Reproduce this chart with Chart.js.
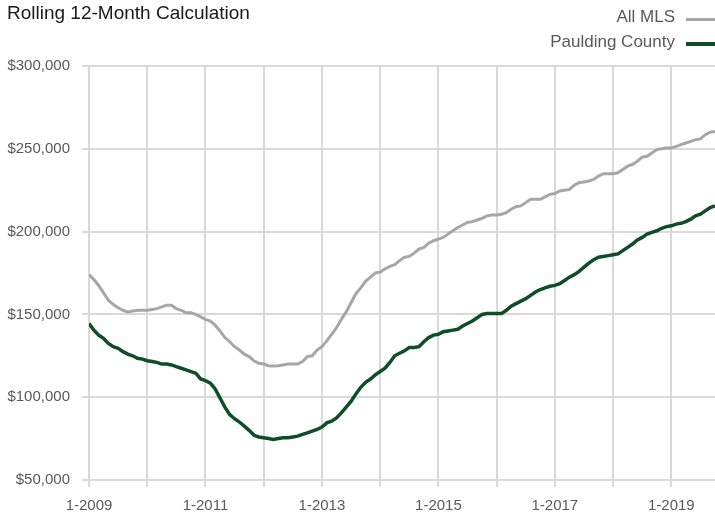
<!DOCTYPE html>
<html lang="en">
<head>
  <meta charset="UTF-8">
  <title>Rolling 12-Month Calculation</title>
  <script src="https://cdn.jsdelivr.net/npm/chart.js@4.4.1/dist/chart.umd.min.js"></script>
  <style>
    body { margin: 0; background: #fff; }
    #wrap { position: relative; width: 715px; height: 515px; font-family: 'Liberation Sans', Arial, sans-serif; }
    #title { position: absolute; left: 7px; top: 2px; font-size: 19px; color: #1a1a1a; }
    .leg { position: absolute; right: 40px; font-size: 17px; color: #595959; white-space: nowrap; }
    .leg span { position: absolute; left: 100%; margin-left: 11px; width: 29px; top: 50%; }
    #leg1 { top: 7px; }
    #leg1 span { height: 3px; margin-top: 1px; background: #a6a6a6; }
    #leg2 { top: 32px; }
    #leg2 span { height: 4px; margin-top: 0px; background: #0f4d27; }
  </style>
</head>
<body>
  <div id="wrap">
    <canvas id="chart"></canvas>
    <div id="title">Rolling 12-Month Calculation</div>
    <div class="leg" id="leg1">All MLS<span></span></div>
    <div class="leg" id="leg2">Paulding County<span></span></div>
  </div>

  <script>
    // monthly values, 1-2009 .. 10-2019
    const allMls = [
      174000, 171000, 167500, 163000, 158500, 156000, 154000, 152500, 151500, 152000, 152500, 152500,
      152500, 153000, 153500, 154500, 155500, 155500, 153500, 152500, 151000, 151000, 150000, 148500,
      147000, 146000, 143500, 140000, 136000, 133500, 130500, 128500, 126000, 124500, 122000, 120500,
      120000, 119000, 118800, 119000, 119500, 120000, 120000, 120000, 121500, 124500, 125000, 128500,
      130500, 134000, 138000, 142000, 147000, 151500, 157000, 162500, 166000, 170000, 172500, 175000,
      175500, 177500, 179000, 180000, 182500, 184500, 185000, 187000, 189500, 190500, 193000, 194500,
      195500, 196500, 198500, 200500, 202500, 204000, 205500, 206000, 207000, 208000, 209500, 210000,
      210000, 210500, 211500, 213500, 215000, 215500, 217500, 219500, 219500, 219500, 221000, 222500,
      223000, 224500, 225000, 225500, 228000, 229500, 230000, 230500, 231500, 233500, 235000, 235000,
      235000, 235500, 237500, 239500, 240500, 242500, 245000, 245500, 247500, 249500, 250000, 250500,
      250500, 251500, 252500, 253500, 254500, 255500, 256000, 258500, 260000, 260500
    ];
    const paulding = [
      144500, 140500, 137500, 135500, 132500, 130500, 129500, 127500, 126000, 125000, 123500, 123000,
      122000, 121500, 121000, 120000, 120000, 119500, 118500, 117500, 116500, 115500, 114500, 111000,
      110000, 108500, 105000, 99500, 94000, 89500, 87000, 85000, 82500, 80000, 77000, 76000,
      75500, 75000, 74500, 75000, 75500, 75500, 76000, 76500, 77500, 78500, 79500, 80500,
      82000, 84500, 85500, 87500, 90500, 94000, 97500, 102000, 106000, 109000, 111000, 113500,
      115500, 117500, 121000, 125000, 126500, 128000, 130000, 130000, 130500, 133500, 136000, 137500,
      138000, 139500, 140000, 140500, 141000, 143000, 144500, 146000, 148000, 150000, 150500, 150500,
      150500, 150500, 152500, 155000, 156500, 158000, 159500, 161500, 163500, 165000, 166000, 167000,
      167500, 168500, 170500, 172500, 174000, 176000, 178500, 181000, 183000, 184500, 185000, 185500,
      186000, 186500, 188500, 190500, 192500, 195000, 196500, 198500, 199500, 200500, 202000, 203000,
      203500, 204500, 205000, 206000, 207500, 209500, 210500, 212500, 214500, 215500
    ];
    const xTickLabels = ['1-2009', '1-2011', '1-2013', '1-2015', '1-2017', '1-2019'];
    const yMin = 50000, yMax = 300000, yStep = 50000;

    const tickFont = { family: "'Liberation Sans', Arial, sans-serif", size: 15 };
    const gridColor = '#d9d9d9';

    new Chart(document.getElementById('chart'), {
      type: 'line',
      data: {
        datasets: [
          {
            label: 'All MLS',
            data: allMls.map((v, i) => ({ x: i, y: v })),
            borderColor: '#a6a6a6',
            borderWidth: 3
          },
          {
            label: 'Paulding County',
            data: paulding.map((v, i) => ({ x: i, y: v })),
            borderColor: '#0f4d27',
            borderWidth: 3.5
          }
        ]
      },
      options: {
        responsive: true,
        maintainAspectRatio: false,
        animation: false,
        layout: { padding: { top: 66, left: 0, right: 0, bottom: 0 } },
        elements: { point: { radius: 0 }, line: { tension: 0 } },
        plugins: { legend: { display: false }, tooltip: { enabled: false } },
        scales: {
          x: {
            type: 'linear',
            min: 0,
            max: allMls.length - 1,
            afterFit: s => { s.height = 35; },
            grid: { color: gridColor, lineWidth: 2, tickLength: 7 },
            border: { display: false },
            ticks: {
              stepSize: 12,
              includeBounds: false,
              autoSkip: false,
              maxRotation: 0,
              padding: 10,
              color: '#595959',
              font: tickFont,
              callback: v => (v % 24 === 0 ? xTickLabels[v / 24] : '')
            }
          },
          y: {
            min: yMin,
            max: yMax,
            afterFit: s => { s.width = 89; },
            grid: { color: gridColor, lineWidth: 2, tickLength: 7 },
            border: { display: false },
            ticks: {
              stepSize: yStep,
              padding: 12,
              color: '#595959',
              font: tickFont,
              callback: v => '$' + v.toLocaleString('en-US')
            }
          }
        }
      }
    });
  </script>
</body>
</html>
